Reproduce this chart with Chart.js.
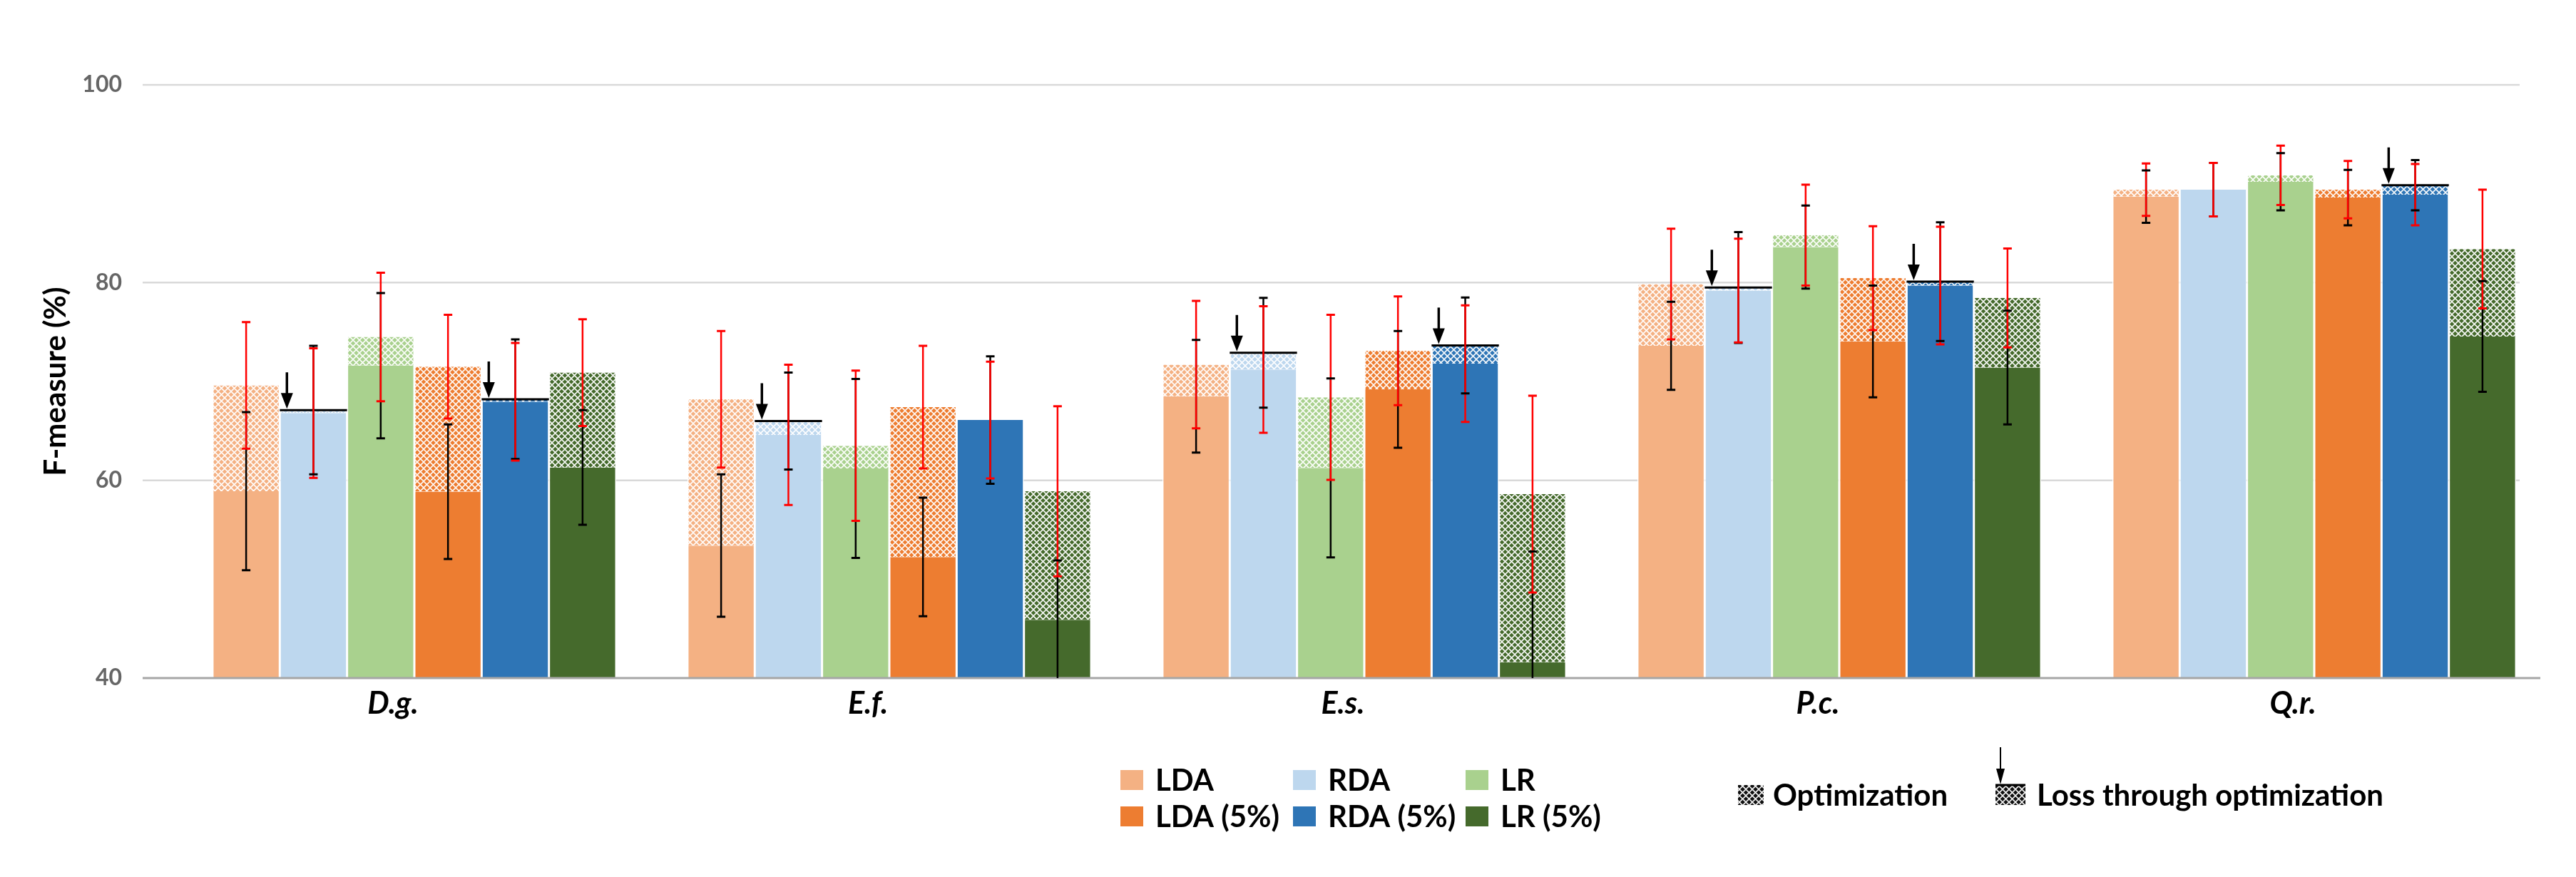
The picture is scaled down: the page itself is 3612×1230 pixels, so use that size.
<!DOCTYPE html>
<html>
<head>
<meta charset="utf-8">
<script src="https://cdn.jsdelivr.net/npm/chart.js@4.4.1/dist/chart.umd.min.js"></script>
<style>
  html, body { margin: 0; padding: 0; background: #fff; }
  #wrap { width: 3612px; height: 1230px; }
</style>
</head>
<body>
<div id="wrap"><canvas id="chart" width="3612" height="1230"></canvas></div>
<script>
// Espèces (catégories) et classifieurs
const categories = ['D.g.', 'E.f.', 'E.s.', 'P.c.', 'Q.r.'];
const seriesNames = ['LDA', 'RDA', 'LR', 'LDA (5%)', 'RDA (5%)', 'LR (5%)'];
const seriesColors = ['#F4B183', '#BDD7EE', '#A9D18E', '#ED7D31', '#2E75B6', '#456A2C'];

// F-measure sans optimisation (barre noire)
const ldaBase  = [58.9, 53.4, 68.5, 73.6, 88.7];
const rdaBase  = [67.1, 66.0, 72.9, 79.5, 89.4];
const lrBase   = [71.6, 61.2, 61.25, 83.6, 90.2];
const lda5Base = [58.85, 52.25, 69.2, 74.05, 88.6];
const rda5Base = [68.2, 66.1, 73.65, 80.1, 89.85];
const lr5Base  = [61.3, 45.9, 41.6, 71.4, 74.55];

// F-measure après optimisation (barre rouge)
const ldaOpt  = [69.6, 68.2, 71.7, 79.85, 89.4];
const rdaOpt  = [66.8, 64.6, 71.2, 79.2, 89.4];
const lrOpt   = [74.5, 63.5, 68.4, 84.8, 90.85];
const lda5Opt = [71.5, 67.4, 73.1, 80.45, 89.4];
const rda5Opt = [67.95, 66.1, 71.8, 79.7, 88.9];
const lr5Opt  = [70.9, 58.9, 58.6, 78.45, 83.4];

// Écarts-types (noir = sans optimisation, rouge = optimisé)
const ldaBaseErr  = [8.0, 7.2, 5.7, 4.45, 2.65];
const rdaBaseErr  = [6.5, 4.9, 5.55, 5.6, 2.7];
const lrBaseErr   = [7.35, 9.05, 9.05, 4.2, 2.9];
const lda5BaseErr = [6.8, 6.0, 5.9, 5.65, 2.8];
const rda5BaseErr = [6.05, 6.45, 4.85, 6.0, 2.55];
const lr5BaseErr  = [5.8, 6.0, 11.2, 5.75, 5.6];

const ldaOptErr  = [6.4, 6.9, 6.45, 5.6, 2.65];
const rdaOptErr  = [6.55, 7.1, 6.4, 5.25, 2.7];
const lrOptErr   = [6.5, 7.6, 8.35, 5.1, 3.0];
const lda5OptErr = [5.25, 6.2, 5.5, 5.25, 2.9];
const rda5OptErr = [5.95, 5.9, 5.9, 5.95, 3.1];
const lr5OptErr  = [5.4, 8.6, 9.95, 5.0, 6.0];

// Axe Y
const yMin = 40, yMax = 100, yStep = 20;

const baseValues = [ldaBase, rdaBase, lrBase, lda5Base, rda5Base, lr5Base];
const optValues = [ldaOpt, rdaOpt, lrOpt, lda5Opt, rda5Opt, lr5Opt];
const baseErrors = [ldaBaseErr, rdaBaseErr, lrBaseErr, lda5BaseErr, rda5BaseErr, lr5BaseErr];
const optErrors = [ldaOptErr, rdaOptErr, lrOptErr, lda5OptErr, rda5OptErr, lr5OptErr];

// Motif hachuré (partie "optimisation")
function makePattern(color) {
    const c = document.createElement('canvas');
    c.width = 9; c.height = 9;
    const g = c.getContext('2d');
    g.fillStyle = color;
    g.fillRect(0, 0, 9, 9);
    g.strokeStyle = 'rgba(255,255,255,0.95)';
    g.lineWidth = 1.6;
    g.beginPath();
    g.moveTo(0, 0); g.lineTo(9, 9);
    g.moveTo(9, 0); g.lineTo(0, 9);
    g.stroke();
    return g.createPattern(c, 'repeat');
}

// Construction des datasets : une pile par classifieur (partie pleine + partie hachurée)
const datasets = [];
seriesNames.forEach((name, s) => {
    const base = baseValues[s];
    const opt = optValues[s];
    const border = { left: 1.5, right: 1.5, top: 0, bottom: 0 };
    datasets.push({
        label: name,
        stack: name,
        data: base.map((b, i) => Math.min(b, opt[i])),
        backgroundColor: seriesColors[s],
        borderColor: '#ffffff',
        borderWidth: border
    });
    datasets.push({
        label: name + ' opt',
        stack: name,
        data: base.map((b, i) => Math.abs(opt[i] - b)),
        backgroundColor: makePattern(seriesColors[s]),
        borderColor: '#ffffff',
        borderWidth: border
    });
});

function drawArrow(ctx, x, yTop, yTip, shaft, headW, headH) {
    ctx.strokeStyle = '#000';
    ctx.fillStyle = '#000';
    ctx.lineWidth = shaft;
    ctx.beginPath();
    ctx.moveTo(x, yTop);
    ctx.lineTo(x, yTip - headH + 2);
    ctx.stroke();
    ctx.beginPath();
    ctx.moveTo(x - headW / 2, yTip - headH);
    ctx.lineTo(x + headW / 2, yTip - headH);
    ctx.lineTo(x, yTip);
    ctx.closePath();
    ctx.fill();
}

function errorLine(ctx, x, y, center, err, color) {
    const top = y.getPixelForValue(center + err);
    const bottom = y.getPixelForValue(Math.max(center - err, y.min));
    ctx.strokeStyle = color;
    ctx.lineWidth = 2.5;
    ctx.beginPath();
    ctx.moveTo(x, top);
    ctx.lineTo(x, bottom);
    ctx.stroke();
}

function errorCaps(ctx, x, y, center, err, color) {
    ctx.strokeStyle = color;
    ctx.lineWidth = 3;
    ctx.beginPath();
    const top = y.getPixelForValue(center + err);
    ctx.moveTo(x - 6, top); ctx.lineTo(x + 6, top);
    if (center - err >= y.min) {
        const bottom = y.getPixelForValue(center - err);
        ctx.moveTo(x - 6, bottom); ctx.lineTo(x + 6, bottom);
    }
    ctx.stroke();
}

const decorPlugin = {
    id: 'decor',
    beforeDatasetsDraw(chart) {
        const { ctx, chartArea, scales: { y } } = chart;
        ctx.save();
        ctx.strokeStyle = '#d9d9d9';
        ctx.lineWidth = 2.5;
        y.ticks.forEach(t => {
            if (t.value === y.min) return;
            const py = y.getPixelForValue(t.value);
            ctx.beginPath();
            ctx.moveTo(chartArea.left - 48, py);
            ctx.lineTo(chartArea.right - 45, py);
            ctx.stroke();
        });
        ctx.restore();
    },
    afterDatasetsDraw(chart) {
        const { ctx, chartArea, scales: { y } } = chart;
        ctx.save();
        // Axe horizontal
        const py0 = y.getPixelForValue(y.min);
        ctx.strokeStyle = '#a6a6a6';
        ctx.lineWidth = 3;
        ctx.beginPath();
        ctx.moveTo(chartArea.left - 48, py0);
        ctx.lineTo(chartArea.right - 16, py0);
        ctx.stroke();

        seriesNames.forEach((name, s) => {
            const meta = chart.getDatasetMeta(2 * s);
            meta.data.forEach((bar, i) => {
                const base = baseValues[s][i];
                const opt = optValues[s][i];
                // Perte due à l'optimisation : trait noir + flèche
                if (opt < base) {
                    const py = y.getPixelForValue(base);
                    const left = bar.x - bar.width / 2;
                    ctx.strokeStyle = '#000';
                    ctx.lineWidth = 3;
                    ctx.beginPath();
                    ctx.moveTo(left, py);
                    ctx.lineTo(left + bar.width, py);
                    ctx.stroke();
                    drawArrow(ctx, left + 10, py - 53, py - 2, 3.5, 17, 22);
                }
            });
        });

        seriesNames.forEach((name, s) => {
            const meta = chart.getDatasetMeta(2 * s);
            meta.data.forEach((bar, i) => {
                errorLine(ctx, bar.x, y, baseValues[s][i], baseErrors[s][i], '#000');
                errorLine(ctx, bar.x, y, optValues[s][i], optErrors[s][i], '#ff0000');
                errorCaps(ctx, bar.x, y, baseValues[s][i], baseErrors[s][i], '#000');
                errorCaps(ctx, bar.x, y, optValues[s][i], optErrors[s][i], '#ff0000');
            });
        });
        ctx.restore();
    },
    afterDraw(chart) {
        const ctx = chart.ctx;
        ctx.save();
        ctx.font = 'bold 42px Lato';
        ctx.textBaseline = 'middle';
        ctx.textAlign = 'left';
        // Légende des classifieurs (3 colonnes x 2 lignes)
        seriesNames.forEach((name, s) => {
            const col = s % 3;
            const row = Math.floor(s / 3);
            const x = 1571 + col * 242;
            const yc = row === 0 ? 1094 : 1145;
            ctx.fillStyle = seriesColors[s];
            ctx.fillRect(x, yc - 14, 32, 28);
            ctx.fillStyle = '#000';
            ctx.fillText(name, x + 49, yc + 1);
        });
        // Légende optimisation / perte
        const yo = 1115;
        const pat = makePattern('#111111');
        ctx.fillStyle = pat;
        ctx.fillRect(2437, yo - 14, 36, 28);
        ctx.fillStyle = '#000';
        ctx.fillText('Optimization', 2486, yo + 1);
        ctx.fillStyle = pat;
        ctx.fillRect(2798, yo - 14, 42, 28);
        ctx.strokeStyle = '#000';
        ctx.lineWidth = 3;
        ctx.beginPath();
        ctx.moveTo(2798, yo - 14); ctx.lineTo(2840, yo - 14);
        ctx.stroke();
        drawArrow(ctx, 2805, 1048, yo - 15, 2, 12, 22);
        ctx.fillStyle = '#000';
        ctx.fillText('Loss through optimization', 2856, yo + 1);
        ctx.restore();
    }
};

const ctx = document.getElementById('chart').getContext('2d');
const myChart = new Chart(ctx, {
    type: 'bar',
    data: { labels: categories, datasets: datasets },
    options: {
        responsive: false,
        devicePixelRatio: 1,
        animation: false,
        layout: { padding: { left: 20, right: 34, top: 119, bottom: 0 } },
        datasets: { bar: { categoryPercentage: 0.85, barPercentage: 1.0 } },
        plugins: {
            legend: { display: false },
            tooltip: { enabled: false }
        },
        scales: {
            x: {
                stacked: true,
                grid: { display: false, drawTicks: false },
                border: { display: false },
                ticks: {
                    color: '#000',
                    padding: 10,
                    labelOffset: -30,
                    font: { family: 'Lato', size: 43, weight: 'bold', style: 'italic' }
                },
                afterFit: (s) => { s.height = 279; }
            },
            y: {
                stacked: true,
                min: yMin,
                max: yMax,
                grid: { display: false, drawTicks: false },
                border: { display: false },
                ticks: {
                    stepSize: yStep,
                    color: '#666666',
                    padding: 77,
                    font: { family: 'Lato', size: 32, weight: 'bold' }
                },
                title: {
                    display: true,
                    text: 'F-measure (%)',
                    color: '#000',
                    padding: { top: 33, bottom: 0 },
                    font: { family: 'Lato', size: 42, weight: 'bold' }
                },
                afterFit: (s) => { s.width = 228; }
            }
        }
    },
    plugins: [decorPlugin]
});
</script>
</body>
</html>
